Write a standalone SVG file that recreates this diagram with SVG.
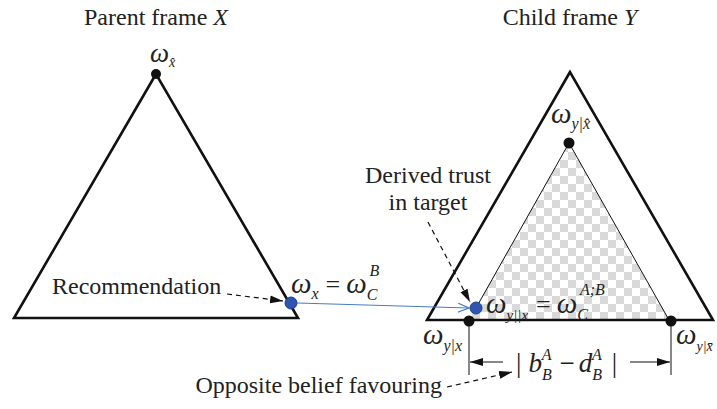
<svg xmlns="http://www.w3.org/2000/svg" width="717" height="409" viewBox="0 0 717 409">
<style>
.t{font-family:"Liberation Serif","Times New Roman",serif;font-size:24px;fill:#222}
.m{font-family:"Liberation Serif","Times New Roman",serif;font-style:italic;fill:#222}
.w{font-size:29px}
.s{font-size:16px}
.tri{fill:none;stroke:#111;stroke-width:2.6;stroke-linejoin:miter}
.dash{fill:none;stroke:#111;stroke-width:1.2;stroke-dasharray:5,4}
.thin{fill:none;stroke:#111;stroke-width:1}
.dot{fill:#111}
.bdot{fill:#2f55b0;stroke:#1d3f8a;stroke-width:1}
</style>
<defs>
<pattern id="chk" patternUnits="userSpaceOnUse" x="0" y="0" width="16" height="16">
<rect width="16" height="16" fill="#fff"/>
<rect width="8" height="8" fill="#d9d9d9"/>
<rect x="8" y="8" width="8" height="8" fill="#d9d9d9"/>
</pattern>
<marker id="ahb" viewBox="0 0 12 10" refX="11" refY="5" markerWidth="12" markerHeight="10" markerUnits="userSpaceOnUse" orient="auto">
<path d="M0,0.5 L11,5 L0,9.5" fill="none" stroke="#4a7cc0" stroke-width="1.2"/>
</marker>
<marker id="ahd" viewBox="0 0 14 10" refX="13" refY="5" markerWidth="14" markerHeight="10" markerUnits="userSpaceOnUse" orient="auto">
<path d="M0,1 L13,5 L0,9 Z" fill="#111"/>
</marker>
</defs>

<g id="parent-frame">
<text class="t" x="156" y="25" text-anchor="middle">Parent frame <tspan font-style="italic">X</tspan></text>
<polygon class="tri" points="156,74 14,318 298,318"/>
<circle class="dot" cx="156" cy="74" r="5"/>
<text class="m" x="150" y="62"><tspan font-size="27px">ω</tspan><tspan font-size="14px" dy="5">x̂</tspan></text>
</g>

<g id="child-frame">
<text class="t" x="570" y="25" text-anchor="middle">Child frame <tspan font-style="italic">Y</tspan></text>
<polygon points="569,143 469,320 669,320" fill="url(#chk)"/>
<polyline class="thin" points="476,308 569,143 669,320"/>
<polygon class="tri" points="570,72 427,320 713,320"/>
<circle class="dot" cx="569" cy="143" r="5.5"/>
<circle class="dot" cx="469" cy="321" r="5.5"/>
<circle class="dot" cx="671" cy="321" r="5.5"/>
<text class="m" x="551" y="123"><tspan class="w">ω</tspan><tspan class="s" dy="6">y|x̂</tspan></text>
<text class="m" x="423" y="344"><tspan class="w">ω</tspan><tspan class="s" dy="7">y|x</tspan></text>
<text class="m" x="676" y="344"><tspan class="w">ω</tspan><tspan font-size="14px" dy="7">y|x̄</tspan></text>
</g>

<g id="recommendation">
<circle class="bdot" cx="291" cy="303" r="6"/>
<text class="m" x="291" y="293"><tspan class="w">ω</tspan><tspan class="s" dy="6">x</tspan><tspan font-style="normal" font-size="26" dx="7" dy="-6">=</tspan><tspan class="w" dx="6">ω</tspan><tspan class="s" dy="7">C</tspan><tspan class="s" dx="-8" dy="-24">B</tspan></text>
<text class="t" x="52" y="294">Recommendation</text>
</g>

<g id="derived-trust">
<circle class="bdot" cx="476" cy="308" r="6"/>
<text class="m" x="486" y="313"><tspan class="w">ω</tspan><tspan font-size="15px" dy="7">y||x</tspan><tspan font-style="normal" font-size="26" dx="8" dy="-7">=</tspan><tspan class="w" dx="6">ω</tspan><tspan class="s" dy="7">C</tspan><tspan class="s" dx="-8" dy="-25">A;B</tspan></text>
<text class="t" x="428" y="183" text-anchor="middle">Derived trust</text>
<text class="t" x="428" y="210" text-anchor="middle">in target</text>
</g>

<g id="difference">
<line class="thin" x1="469" y1="324" x2="469" y2="375"/>
<line class="thin" x1="671" y1="324" x2="671" y2="375"/>
<text class="m" x="516" y="372" font-size="27"><tspan font-style="normal">|</tspan><tspan dx="7">b</tspan><tspan class="s" dy="8">B</tspan><tspan class="s" dx="-10" dy="-20">A</tspan><tspan font-style="normal" dx="8" dy="12">−</tspan><tspan dx="4">d</tspan><tspan class="s" dy="8">B</tspan><tspan class="s" dx="-10" dy="-20">A</tspan><tspan font-style="normal" dx="10" dy="12">|</tspan></text>
<text class="t" x="442" y="393" text-anchor="end">Opposite belief favouring</text>
</g>

<g id="connectors">
<line x1="297" y1="303" x2="469" y2="308" stroke="#4a7cc0" stroke-width="1.2" marker-end="url(#ahb)"/>
<line class="dash" x1="227" y1="294" x2="283" y2="301" marker-end="url(#ahd)"/>
<line class="dash" x1="428" y1="222" x2="470" y2="302" marker-end="url(#ahd)"/>
<line class="dash" x1="447" y1="387" x2="512" y2="372" marker-end="url(#ahd)"/>
<line class="thin" x1="503" y1="362" x2="470" y2="362" marker-end="url(#ahd)"/>
<line class="thin" x1="630" y1="362" x2="670" y2="362" marker-end="url(#ahd)"/>
</g>
</svg>
